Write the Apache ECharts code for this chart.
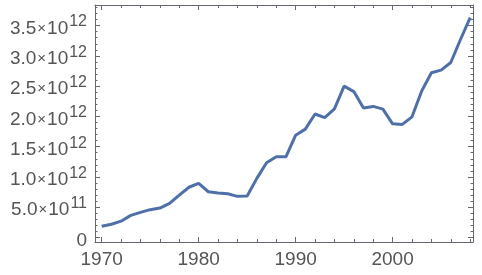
<!DOCTYPE html>
<html><head><meta charset="utf-8">
<script src="https://cdn.jsdelivr.net/npm/echarts@6/dist/echarts.min.js"></script>
<style>html,body{margin:0;padding:0;background:#fff}#c{width:482px;height:275px}</style>
</head><body><div id="c"></div>
<script>
const years = [1970,1971,1972,1973,1974,1975,1976,1977,1978,1979,1980,1981,1982,1983,1984,1985,1986,1987,1988,1989,1990,1991,1992,1993,1994,1995,1996,1997,1998,1999,2000,2001,2002,2003,2004,2005,2006,2007,2008];
const values = [0.185e12,0.22e12,0.27e12,0.366e12,0.415e12,0.46e12,0.487e12,0.564e12,0.70e12,0.83e12,0.894e12,0.756e12,0.734e12,0.723e12,0.68e12,0.685e12,0.977e12,1.234e12,1.333e12,1.333e12,1.69e12,1.79e12,2.04e12,1.98e12,2.126e12,2.50e12,2.41e12,2.14e12,2.165e12,2.12e12,1.878e12,1.868e12,1.993e12,2.42e12,2.72e12,2.764e12,2.89e12,3.27e12,3.63e12];

const XMIN = 1969.31, XMAX = 2008.29, YMIN = -0.074e12, YMAX = 3.84e12;
const frameColor = '#646870', labelColor = '#555555', font = 'Liberation Sans';

function yFmt(v) {
  if (Math.abs(v) < 1) return '{m|0}';
  const e = Math.floor(Math.log10(v) + 1e-9);
  const m = (v / Math.pow(10, e)).toFixed(1);
  return '{m|' + m + '}{x|\u00d7}{m|10}{s|' + e + '}';
}

function xAx(pos, labels) {
  return {
    type: 'value', position: pos, min: XMIN, max: XMAX, splitNumber: 4,
    axisLine: {show: true, onZero: false, lineStyle: {color: frameColor, width: 1}},
    splitLine: {show: false},
    axisTick: {show: true, inside: true, length: 5, lineStyle: {color: frameColor, width: 1}},
    minorTick: {show: true, splitNumber: 5, length: 3, lineStyle: {color: frameColor, width: 1}},
    minorSplitLine: {show: false},
    axisLabel: labels ? {show: true, showMinLabel: false, showMaxLabel: false, color: labelColor, fontFamily: font, fontSize: 19, margin: 8, formatter: v => String(v)} : {show: false}
  };
}
function yAx(pos, labels) {
  return {
    type: 'value', position: pos, min: YMIN, max: YMAX, splitNumber: 8,
    axisLine: {show: true, onZero: false, lineStyle: {color: frameColor, width: 1}},
    splitLine: {show: false},
    axisTick: {show: true, inside: true, length: 5, lineStyle: {color: frameColor, width: 1}},
    minorTick: {show: true, splitNumber: 5, length: 2.5, lineStyle: {color: frameColor, width: 1}},
    minorSplitLine: {show: false},
    axisLabel: labels ? {
      show: true, showMinLabel: false, showMaxLabel: false, margin: 8, formatter: yFmt,
      rich: {
        m: {color: labelColor, fontFamily: font, fontSize: 19, padding: [6, 0, 0, 0]},
        x: {color: labelColor, fontFamily: font, fontSize: 15, padding: [6, 1, 0, 1]},
        s: {color: labelColor, fontFamily: font, fontSize: 16, padding: [0, 0, 7, 1]}
      }
    } : {show: false}
  };
}

const chart = echarts.init(document.getElementById('c'));
chart.setOption({
  animation: false,
  grid: {left: 95, right: 9, top: 5, bottom: 33},
  xAxis: [xAx('bottom', true), xAx('top', false)],
  yAxis: [yAx('left', true), yAx('right', false)],
  series: [{
    type: 'line', showSymbol: false, symbol: 'none', xAxisIndex: 0, yAxisIndex: 0,
    data: years.map((y, i) => [y, values[i]]),
    lineStyle: {color: '#4f6fa8', width: 3}
  }]
});
</script></body></html>
